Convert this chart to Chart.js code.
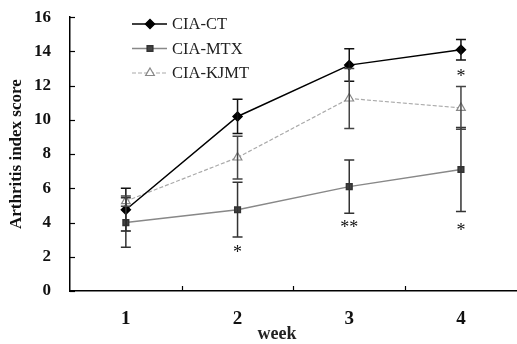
<!DOCTYPE html>
<html>
<head>
<meta charset="utf-8">
<script src="https://cdn.jsdelivr.net/npm/chart.js@4.4.1/dist/chart.umd.min.js"></script>
<style>
  html, body { margin: 0; padding: 0; background: #fff; overflow: hidden; }
  #wrap { position: relative; width: 523px; height: 356px; margin-top: -12px; }
</style>
</head>
<body>
<div id="wrap"><canvas id="chart"></canvas></div>
<script>
const weeks = ['1', '2', '3', '4'];
const seriesNames = ['CIA-CT', 'CIA-MTX', 'CIA-KJMT'];
const ctMean = [4.75, 10.2, 13.2, 14.1];
const ctErr = [1.25, 1.0, 0.95, 0.6];
const mtxMean = [4.0, 4.75, 6.1, 7.1];
const mtxErr = [1.45, 1.6, 1.55, 2.45];
const kjmtMean = [5.25, 7.8, 11.25, 10.7];
const kjmtErr = [0.3, 1.25, 1.75, 1.25];
const yTicks = [0, 2, 4, 6, 8, 10, 12, 14, 16];

// significance marks
const sigWeek = ['2', '3', '4', '4'];
const sigValue = [2.45, 3.9, 3.7, 12.7];
const sigText = ['*', '**', '*', '*'];

const SERIF = '"Liberation Serif", "DejaVu Serif", serif';
const SHIFT = 12; // canvas is shifted up by this much

// error bars, inward ticks, stars, legend
const extras = {
  id: 'extras',
  afterDatasetsDraw(chart) {
    const ctx = chart.ctx;
    const x = chart.scales.x, y = chart.scales.y;
    const errs = [ctErr, mtxErr, kjmtErr];
    const errColors = ['#111', '#333', '#444'];
    ctx.save();
    chart.data.datasets.forEach((ds, i) => {
      ctx.strokeStyle = errColors[i];
      ctx.lineWidth = 1.5;
      ds.data.forEach((v, j) => {
        const px = x.getPixelForValue(j);
        const top = y.getPixelForValue(v + errs[i][j]);
        const bot = y.getPixelForValue(v - errs[i][j]);
        ctx.beginPath();
        ctx.moveTo(px, top); ctx.lineTo(px, bot);
        ctx.moveTo(px - 5, top); ctx.lineTo(px + 5, top);
        ctx.moveTo(px - 5, bot); ctx.lineTo(px + 5, bot);
        ctx.stroke();
      });
    });
    ctx.restore();
  },
  afterDraw(chart) {
    const ctx = chart.ctx;
    const x = chart.scales.x, y = chart.scales.y;
    const area = chart.chartArea;
    ctx.save();
    ctx.strokeStyle = '#000';
    ctx.lineWidth = 1.2;
    // y ticks pointing inward
    yTicks.forEach(t => {
      const py = Math.round(y.getPixelForValue(t)) + 0.5;
      ctx.beginPath();
      ctx.moveTo(area.left, py); ctx.lineTo(area.left + 5, py);
      ctx.stroke();
    });
    // x ticks between categories
    for (let j = 0; j < weeks.length - 1; j++) {
      const px = Math.round(x.getPixelForValue(j + 0.5)) + 0.5;
      ctx.beginPath();
      ctx.moveTo(px, area.bottom); ctx.lineTo(px, area.bottom - 5);
      ctx.stroke();
    }
    // stars
    ctx.fillStyle = '#111';
    ctx.font = '18px ' + SERIF;
    ctx.textAlign = 'center';
    ctx.textBaseline = 'middle';
    sigText.forEach((t, k) => {
      const px = x.getPixelForValue(weeks.indexOf(sigWeek[k]));
      ctx.fillText(t, px, y.getPixelForValue(sigValue[k]) + 4);
    });
    // legend
    ctx.font = '16.5px ' + SERIF;
    ctx.textAlign = 'left';
    chart.data.datasets.forEach((ds, i) => {
      const ly = SHIFT + 24 + i * 24.5;
      ctx.strokeStyle = ds.borderColor;
      ctx.lineWidth = ds.borderWidth;
      ctx.setLineDash(ds.borderDash || []);
      ctx.beginPath();
      ctx.moveTo(132, ly); ctx.lineTo(167, ly);
      ctx.stroke();
      ctx.setLineDash([]);
      ctx.fillStyle = ds.pointBackgroundColor;
      ctx.strokeStyle = ds.pointBorderColor;
      Chart.helpers.drawPoint(ctx, {
        pointStyle: ds.pointStyle,
        radius: ds.pointRadius,
        borderWidth: 1
      }, 150, ly);
      ctx.fillStyle = '#222';
      ctx.fillText(ds.label, 172, ly + 1);
    });
    // x title
    ctx.font = 'bold 18px ' + SERIF;
    ctx.textAlign = 'center';
    ctx.fillText('week', 277, SHIFT + 334);
    ctx.restore();
  }
};

new Chart(document.getElementById('chart'), {
  type: 'line',
  data: {
    labels: weeks,
    datasets: [
      {
        label: seriesNames[0],
        data: ctMean,
        borderColor: '#000',
        borderWidth: 1.5,
        pointStyle: 'rectRot',
        pointRadius: 4.5,
        pointBackgroundColor: '#000',
        pointBorderColor: '#000'
      },
      {
        label: seriesNames[1],
        data: mtxMean,
        borderColor: '#888',
        borderWidth: 1.5,
        pointStyle: 'rect',
        pointRadius: 4,
        pointBackgroundColor: '#444',
        pointBorderColor: '#333'
      },
      {
        label: seriesNames[2],
        data: kjmtMean,
        borderColor: '#aaa',
        borderWidth: 1.2,
        borderDash: [4, 2],
        pointStyle: 'triangle',
        pointRadius: 5,
        pointBackgroundColor: '#fff',
        pointBorderColor: '#888'
      }
    ]
  },
  options: {
    responsive: true,
    maintainAspectRatio: false,
    animation: false,
    layout: { padding: { top: 2, right: 0, bottom: 0, left: 0 } },
    plugins: {
      legend: { display: false },
      tooltip: { enabled: false }
    },
    elements: { line: { tension: 0 } },
    scales: {
      x: {
        offset: true,
        grid: { display: false, drawTicks: false },
        border: { display: true, color: '#000', width: 1.5 },
        ticks: {
          color: '#111',
          padding: 17,
          font: { family: SERIF, size: 19, weight: 'bold' }
        },
        afterFit(scale) { scale.height = 53; }
      },
      y: {
        min: 0,
        max: 16,
        afterBuildTicks(scale) { scale.ticks = yTicks.map(v => ({ value: v })); },
        grid: { display: false, drawTicks: false },
        border: { display: true, color: '#000', width: 1.5 },
        ticks: {
          color: '#111',
          padding: 19,
          font: { family: SERIF, size: 17, weight: 'bold' }
        },
        title: {
          display: true,
          text: 'Arthritis index score',
          color: '#111',
          padding: { top: 6, bottom: 0 },
          font: { family: SERIF, size: 17, weight: 'bold' }
        },
        afterFit(scale) { scale.width = 70; }
      }
    }
  },
  plugins: [extras]
});
</script>
</body>
</html>
